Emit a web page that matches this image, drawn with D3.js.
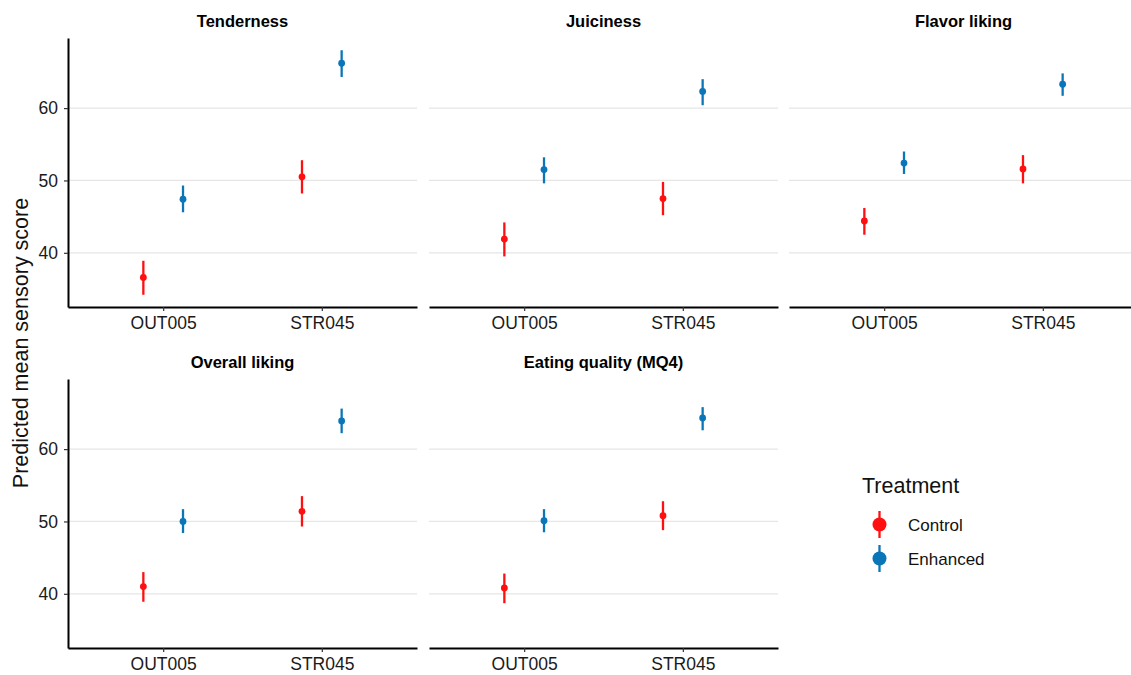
<!DOCTYPE html>
<html>
<head>
<meta charset="utf-8">
<script src="https://cdn.jsdelivr.net/npm/d3@7"></script>
<style>
  body { margin: 0; background: #fff; }
  svg text { font-family: "Liberation Sans", Arial, sans-serif; }
</style>
</head>
<body>
<div id="chart"></div>
<script>
// facets, categories, groups
const facets = ["Tenderness", "Juiciness", "Flavor liking", "Overall liking", "Eating quality (MQ4)"];
const cuts = ["OUT005", "STR045"];
const treatments = ["Control", "Enhanced"];
const colors = ["#FF1010", "#0A76B8"];

// values per facet: [OUT005, STR045]
const controlMean  = [[36.6, 50.5], [41.9, 47.5], [44.4, 51.6], [41.0, 51.4], [40.8, 50.8]];
const controlLow   = [[34.2, 48.2], [39.5, 45.2], [42.5, 49.6], [38.9, 49.3], [38.7, 48.8]];
const controlHigh  = [[38.9, 52.8], [44.2, 49.8], [46.2, 53.5], [43.0, 53.5], [42.8, 52.8]];
const enhancedMean = [[47.4, 66.2], [51.5, 62.3], [52.4, 63.3], [50.0, 63.9], [50.1, 64.3]];
const enhancedLow  = [[45.6, 64.3], [49.6, 60.4], [50.9, 61.7], [48.4, 62.2], [48.5, 62.6]];
const enhancedHigh = [[49.3, 68.0], [53.2, 64.0], [54.0, 64.8], [51.7, 65.6], [51.7, 65.8]];

const yTicks = [40, 50, 60];

const width = 1131, height = 675;
const colX = [68, 429, 789];
const rowTop = [38, 379];
const panelW = 349, panelH = 269;

const svg = d3.select("#chart").append("svg")
    .attr("width", width)
    .attr("height", height);

// flatten to rows
const rows = [];
facets.forEach((f, i) => {
    cuts.forEach((c, j) => {
        rows.push({facet: f, cut: c, trt: "Control", mean: controlMean[i][j], lo: controlLow[i][j], hi: controlHigh[i][j]});
        rows.push({facet: f, cut: c, trt: "Enhanced", mean: enhancedMean[i][j], lo: enhancedLow[i][j], hi: enhancedHigh[i][j]});
    });
});

// shared y range with 5% expansion
const yMin = d3.min(rows, d => d.lo), yMax = d3.max(rows, d => d.hi);
const pad = (yMax - yMin) * 0.05;
const color = d3.scaleOrdinal().domain(treatments).range(colors);

facets.forEach((f, i) => {
    const col = i % 3, row = Math.floor(i / 3);
    const x0 = colX[col], top = rowTop[row];

    const x = d3.scalePoint().domain(cuts).range([x0, x0 + panelW]).padding(0.6);
    const y = d3.scaleLinear().domain([yMin - pad, yMax + pad]).range([top + panelH, top]);
    const dodge = x.step() * 0.125;

    const g = svg.append("g");

    // grid
    g.selectAll(".grid").data(yTicks).enter().append("line")
        .attr("x1", x0).attr("x2", x0 + panelW)
        .attr("y1", d => y(d)).attr("y2", d => y(d))
        .style("stroke", "#e6e6e6")
        .style("stroke-width", 1.3);

    // strip title
    g.append("text")
        .attr("x", x0 + panelW / 2)
        .attr("y", top - 11)
        .attr("text-anchor", "middle")
        .style("font-size", "16.5px")
        .style("font-weight", "bold")
        .text(f);

    // x axis
    const xa = g.append("g")
        .attr("transform", `translate(0,${top + panelH})`)
        .call(d3.axisBottom(x).tickSize(4).tickSizeOuter(0).tickPadding(6));
    xa.select(".domain").style("stroke", "#000").style("stroke-width", 2);
    xa.selectAll(".tick line").style("stroke", "#333").style("stroke-width", 1.2);
    xa.selectAll(".tick text").style("font-size", "17.5px").style("fill", "#1a1a1a")
        .style("font-family", "Liberation Sans, Arial, sans-serif");

    // y axis for left column
    if (col === 0) {
        const ya = g.append("g")
            .attr("transform", `translate(${x0},0)`)
            .call(d3.axisLeft(y).tickValues(yTicks).tickSize(4).tickSizeOuter(0).tickPadding(6));
        ya.select(".domain").style("stroke", "#000").style("stroke-width", 2);
        ya.selectAll(".tick line").style("stroke", "#333").style("stroke-width", 1.2);
        ya.selectAll(".tick text").style("font-size", "17.5px").style("fill", "#1a1a1a")
            .style("font-family", "Liberation Sans, Arial, sans-serif");
    }

    const data = rows.filter(d => d.facet === f);
    const px = d => x(d.cut) + (d.trt === "Control" ? -dodge : dodge);

    g.selectAll(".bar").data(data).enter().append("line")
        .attr("x1", px).attr("x2", px)
        .attr("y1", d => y(d.lo)).attr("y2", d => y(d.hi))
        .style("stroke", d => color(d.trt))
        .style("stroke-width", 2.3);

    g.selectAll(".pt").data(data).enter().append("circle")
        .attr("cx", px).attr("cy", d => y(d.mean))
        .attr("r", 3.4)
        .style("fill", d => color(d.trt));
});

// y title
svg.append("text")
    .attr("transform", "translate(28,343) rotate(-90)")
    .attr("text-anchor", "middle")
    .style("font-size", "21.5px")
    .style("fill", "#111")
    .text("Predicted mean sensory score");

// legend
const legend = svg.append("g");
legend.append("text")
    .attr("x", 862).attr("y", 493)
    .style("font-size", "21.5px")
    .style("fill", "#111")
    .text("Treatment");

treatments.forEach((t, k) => {
    const cy = 524.5 + k * 34;
    legend.append("line")
        .attr("x1", 879.5).attr("x2", 879.5)
        .attr("y1", cy - 13.5).attr("y2", cy + 13.5)
        .style("stroke", color(t))
        .style("stroke-width", 2.3);
    legend.append("circle")
        .attr("cx", 879.5).attr("cy", cy)
        .attr("r", 7)
        .style("fill", color(t));
    legend.append("text")
        .attr("x", 908).attr("y", cy + 6)
        .style("font-size", "17px")
        .style("fill", "#111")
        .text(t);
});
</script>
</body>
</html>
